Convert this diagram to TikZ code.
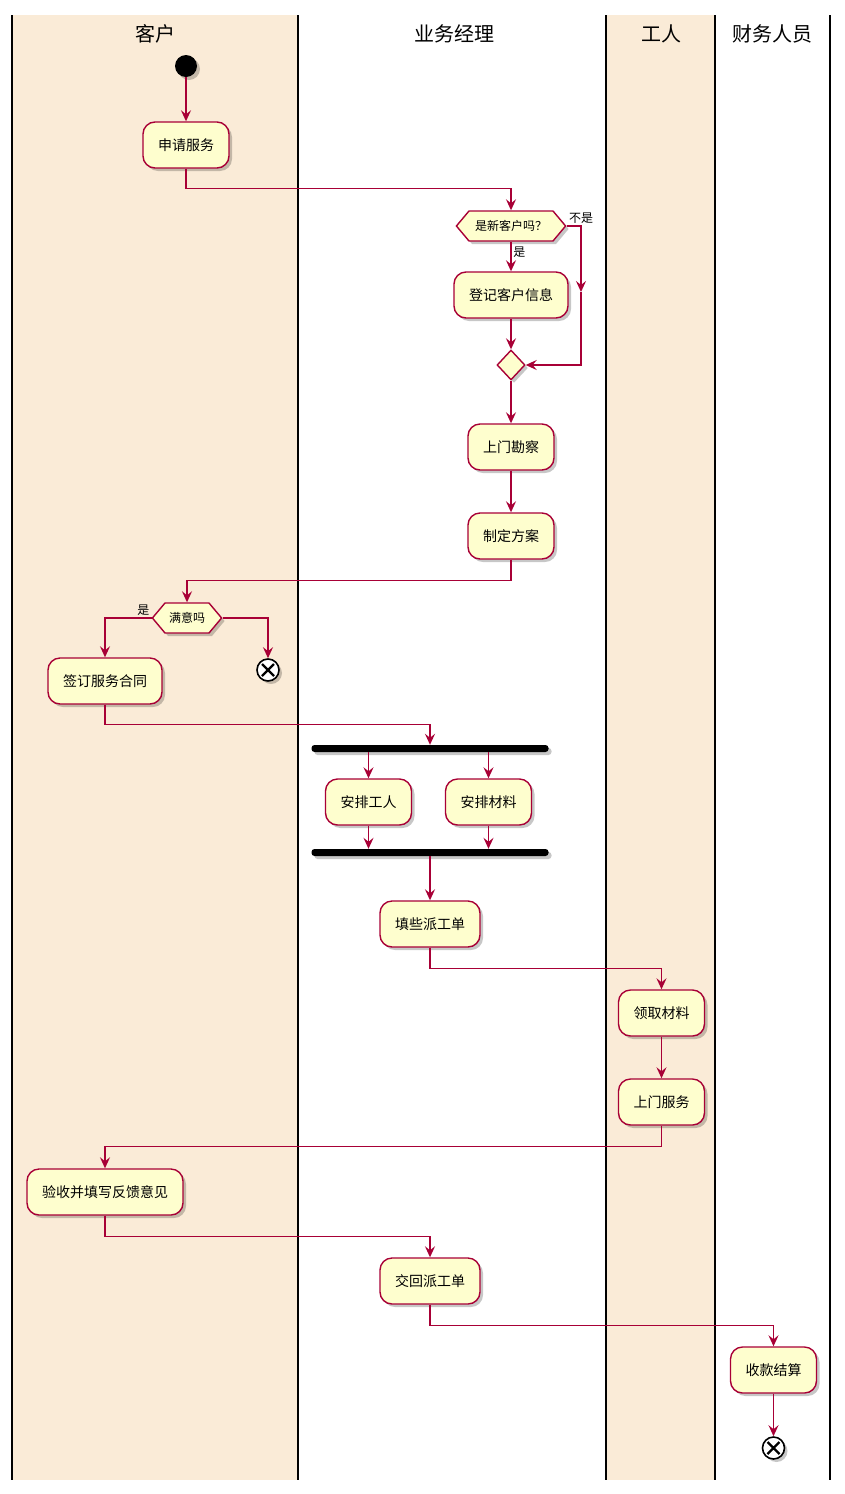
\documentclass[tikz,border=0pt]{standalone}
\usepackage{fontspec}
\setmainfont{Noto Sans CJK SC}
\usetikzlibrary{arrows.meta,shapes.symbols,shapes.geometric,shadows}
\definecolor{lanebg}{HTML}{FAEBD7}
\definecolor{actfill}{HTML}{FEFECE}
\definecolor{actline}{HTML}{A80036}
\begin{document}
\begin{tikzpicture}[x=1pt,y=-1pt,
  shad/.style={drop shadow={shadow xshift=3pt,shadow yshift=-3pt,fill=black,opacity=0.22}},
  act/.style={draw=actline,fill=actfill,line width=1.4pt,rounded corners=12pt,
    minimum height=46pt,inner xsep=15pt,font=\fontsize{14}{16}\selectfont,shad},
  hexa/.style={signal,signal to=east and west,signal pointer angle=100,
    draw=actline,fill=actfill,line width=1.4pt,minimum height=30pt,inner xsep=4pt,
    inner ysep=0pt,font=\fontsize{12}{14}\selectfont,shad},
  merge/.style={diamond,draw=actline,fill=actfill,line width=1.4pt,
    minimum width=28pt,minimum height=30pt,inner sep=0pt,shad},
  startdot/.style={circle,fill=black,minimum size=22pt,inner sep=0pt,shad},
  stopx/.style={circle,draw=black,fill=white,line width=1.6pt,minimum size=22pt,inner sep=0pt,shad,
    path picture={\draw[line width=2.2pt] ([shift={(-6,-6)}]path picture bounding box.center) -- ([shift={(6,6)}]path picture bounding box.center)
      ([shift={(-6,6)}]path picture bounding box.center) -- ([shift={(6,-6)}]path picture bounding box.center);}},
  bar/.style={rectangle,fill=black,rounded corners=3pt,minimum width=237pt,minimum height=7pt,inner sep=0pt,shad},
  flow/.style={draw=actline,line width=1.5pt,-{Stealth[length=11pt,width=10pt,inset=4pt]}},
  lbl/.style={font=\fontsize{12}{14}\selectfont,inner sep=1.5pt},
  lanehead/.style={font=\fontsize{20}{24}\selectfont},
  laneline/.style={line width=2pt,black}]

\useasboundingbox (0,0) rectangle (844,1494);

% swimlane backgrounds and borders
\fill[lanebg] (12,15) rectangle (298,1480);
\fill[lanebg] (606,15) rectangle (715,1480);
\foreach \lx in {12,298,606,715,830}
  \draw[laneline] (\lx,15) -- (\lx,1480);

\node[lanehead] (h1) at (155,34) {客户};
\node[lanehead] (h2) at (454,34) {业务经理};
\node[lanehead] (h3) at (661,34) {工人};
\node[lanehead] (h4) at (772,34) {财务人员};

% activities
\node[startdot] (start) at (186,66) {};
\node[act] (a1) at (186,145) {申请服务};
\node[hexa,inner xsep=6pt] (d1) at (511,226) {是新客户吗？};
\node[act] (a2) at (511,295) {登记客户信息};
\node[merge] (m1) at (511,365) {};
\node[act] (a3) at (511,447) {上门勘察};
\node[act] (a4) at (511,536) {制定方案};
\node[hexa] (d2) at (187,618) {满意吗};
\node[act] (a5) at (105,681) {签订服务合同};
\node[stopx] (e1) at (268,670) {};
\node[bar] (f1) at (430,748.5) {};
\node[act] (a6) at (368.5,802) {安排工人};
\node[act] (a7) at (488.5,802) {安排材料};
\node[bar] (f2) at (430,852.5) {};
\node[act] (a8) at (430,924) {填些派工单};
\node[act] (w1) at (661.5,1013) {领取材料};
\node[act] (w2) at (661.5,1102) {上门服务};
\node[act] (v1) at (105,1192) {验收并填写反馈意见};
\node[act] (b2) at (430,1281) {交回派工单};
\node[act] (p1) at (773.5,1370) {收款结算};
\node[stopx] (e2) at (773.5,1448) {};

\coordinate (c1) at (581,292);

% connectors
\draw[flow] (start) -- (a1);
\draw[flow] (a1.south) -- ++(0,20) -| (d1.north);
\draw[flow] (d1.south) -- node[lbl,pos=0.35,right]{是} (a2.north);
\draw[flow] (d1.east) -| node[lbl,pos=0.5,above]{不是} (c1);
\draw[flow] (c1) |- (m1.east);
\draw[flow] (a2) -- (m1);
\draw[flow] (m1) -- (a3);
\draw[flow] (a3) -- (a4);
\draw[flow] (a4.south) -- ++(0,21) -| (d2.north);
\draw[flow] (d2.west) node[lbl,anchor=south east]{是} -| (a5.north);
\draw[flow] (d2.east) -| (e1.north);
\draw[flow] (a5.south) -- ++(0,20) -| (f1.north);
\draw[flow] (f1.south -| a6.north) -- (a6.north);
\draw[flow] (f1.south -| a7.north) -- (a7.north);
\draw[flow] (a6.south) -- (a6.south |- f2.north);
\draw[flow] (a7.south) -- (a7.south |- f2.north);
\draw[flow] (f2.south) -- (a8.north);
\draw[flow] (a8.south) -- ++(0,21) -| (w1.north);
\draw[flow] (w1) -- (w2);
\draw[flow] (w2.south) -- ++(0,21) -| (v1.north);
\draw[flow] (v1.south) -- ++(0,21) -| (b2.north);
\draw[flow] (b2.south) -- ++(0,21) -| (p1.north);
\draw[flow] (p1) -- (e2);
\end{tikzpicture}
\end{document}
